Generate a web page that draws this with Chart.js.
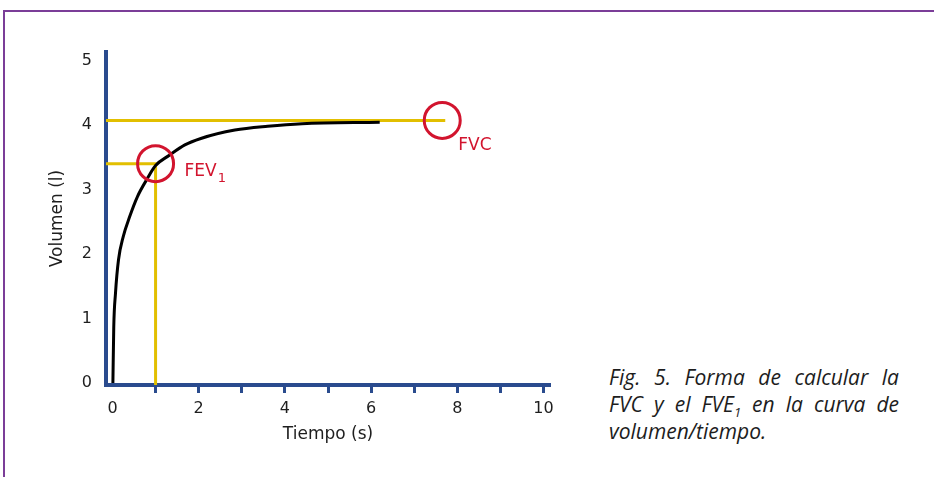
<!DOCTYPE html>
<html lang="es">
<head>
<meta charset="utf-8">
<title>Fig. 5 — Curva volumen/tiempo</title>
<script src="https://cdn.jsdelivr.net/npm/chart.js@4.4.1/dist/chart.umd.min.js"></script>
<style>
  html, body { margin: 0; padding: 0; background: #fff; }
  body { width: 934px; height: 477px; position: relative; overflow: hidden; }
  #frame {
    position: absolute; left: 3px; top: 10px; right: 0; bottom: 0;
    border-top: 2px solid #7b3d98; border-left: 2px solid #7b3d98;
  }
  #wrap { position: absolute; left: 0; top: 0; width: 600px; height: 477px; }
  #caption {
    position: absolute; left: 609px; top: 364px; width: 290px;
    font-family: "Open Sans", "Noto Sans", sans-serif; font-style: italic;
    font-size: 21px; line-height: 27px; color: #1d1d1d;
  }
  #caption .ln { text-align: justify; text-align-last: justify; white-space: nowrap; }
  #caption .ln.last { text-align: left; text-align-last: left; }
  #caption sub { font-size: 13px; line-height: 0; vertical-align: -5px; }
</style>
</head>
<body>
<div id="frame"></div>
<div id="wrap"><canvas id="chart" width="600" height="477"></canvas></div>
<div id="caption">
  <div class="ln">Fig. 5. Forma de calcular la</div>
  <div class="ln">FVC y el FVE<sub>1</sub> en la curva de</div>
  <div class="ln last">volumen/tiempo.</div>
</div>

<script>
// ---- data ----
const timeS   = [0.01, 0.03, 0.07, 0.14, 0.25, 0.4, 0.58, 0.81, 1.0, 1.32, 1.68, 2.05, 2.84, 3.6, 4.4, 6.2];
const volumeL = [0, 0.87, 1.39, 1.91, 2.27, 2.58, 2.89, 3.17, 3.37, 3.53, 3.69, 3.79, 3.92, 3.98, 4.02, 4.04];

const xTicks = [0, 1, 2, 3, 4, 5, 6, 7, 8, 9, 10];
const xTickLabels = ['0', '', '2', '', '4', '', '6', '', '8', '', '10'];
const yTicks = [0, 1, 2, 3, 4, 5];

// FEV1 and FVC reading lines
const fev1Time = 1;
const fev1Vol = 3.4;
const fvcTime = 7.65;
const fvcVol = 4.07;
const fvcLineEnd = 7.72;

const markNames = ['FEV', 'FVC'];
const markSubs = ['1', ''];

const xMin = -0.15, xMax = 10.15;
const yMin = -0.03, yMax = 5.13;

const axisBlue = '#2a4b8e';
const gold = '#e2bf00';
const red = '#d2142e';
const textCol = '#1e1e1e';
const fontFam = '"DejaVu Sans", sans-serif';

// labels beside the circles
const markLabelPlugin = {
  id: 'markLabels',
  afterDatasetsDraw(chart) {
    const { ctx } = chart;
    const meta = chart.getDatasetMeta(0);
    const offs = [[29, 8], [16, 25]];
    ctx.save();
    ctx.fillStyle = red;
    ctx.textBaseline = 'middle';
    meta.data.forEach((pt, i) => {
      const x = pt.x + offs[i][0], y = pt.y + offs[i][1];
      ctx.font = '17px ' + fontFam;
      ctx.fillText(markNames[i], x, y);
      if (markSubs[i]) {
        const w = ctx.measureText(markNames[i]).width;
        ctx.font = '13px ' + fontFam;
        ctx.fillText(markSubs[i], x + w + 1, y + 7);
      }
    });
    ctx.restore();
  }
};

const ctx = document.getElementById('chart').getContext('2d');
new Chart(ctx, {
  type: 'scatter',
  data: {
    datasets: [
      {
        // circles (drawn on top)
        data: [{ x: fev1Time, y: fev1Vol }, { x: fvcTime, y: fvcVol }],
        showLine: false,
        pointRadius: 18,
        pointBorderWidth: 3,
        pointBorderColor: red,
        pointBackgroundColor: 'rgba(0,0,0,0)'
      },
      {
        // volume/time curve
        data: timeS.map((t, i) => ({ x: t, y: volumeL[i] })),
        showLine: true,
        borderColor: '#000',
        borderWidth: 3,
        pointRadius: 0,
        cubicInterpolationMode: 'monotone'
      },
      {
        data: [{ x: xMin, y: fev1Vol }, { x: fev1Time, y: fev1Vol }, { x: fev1Time, y: yMin }],
        showLine: true,
        borderColor: gold,
        borderWidth: 3,
        pointRadius: 0,
        tension: 0
      },
      {
        data: [{ x: xMin, y: fvcVol }, { x: fvcLineEnd, y: fvcVol }],
        showLine: true,
        borderColor: gold,
        borderWidth: 3,
        pointRadius: 0,
        tension: 0
      }
    ]
  },
  options: {
    responsive: false,
    animation: false,
    layout: { padding: { top: 52, right: 50, bottom: 0, left: 0 } },
    plugins: { legend: { display: false }, tooltip: { enabled: false } },
    scales: {
      x: {
        type: 'linear',
        min: xMin,
        max: xMax,
        afterBuildTicks: s => { s.ticks = xTicks.map(v => ({ value: v })); },
        afterFit: s => { s.height = 92; },
        border: { display: true, color: axisBlue, width: 4 },
        grid: {
          display: true,
          drawOnChartArea: false,
          drawTicks: true,
          tickLength: 8,
          tickWidth: 3,
          tickColor: c => (c.tick && c.tick.value === 0) ? 'rgba(0,0,0,0)' : axisBlue
        },
        ticks: {
          color: textCol,
          font: { family: fontFam, size: 16 },
          padding: 6,
          maxRotation: 0,
          autoSkip: false,
          callback: (v, i) => xTickLabels[i]
        },
        title: {
          display: true,
          text: 'Tiempo (s)',
          color: textCol,
          font: { family: fontFam, size: 17 },
          padding: { top: 0, bottom: 32 }
        }
      },
      y: {
        type: 'linear',
        min: yMin,
        max: yMax,
        afterBuildTicks: s => { s.ticks = yTicks.map(v => ({ value: v })); },
        afterFit: s => { s.width = 106; },
        border: { display: true, color: axisBlue, width: 4 },
        grid: { display: false, drawTicks: false },
        ticks: {
          color: textCol,
          font: { family: fontFam, size: 16 },
          padding: 14
        },
        title: {
          display: true,
          text: 'Volumen (l)',
          color: textCol,
          font: { family: fontFam, size: 17 },
          padding: { top: 47, bottom: 0 }
        }
      }
    }
  },
  plugins: [markLabelPlugin]
});
</script>
</body>
</html>
